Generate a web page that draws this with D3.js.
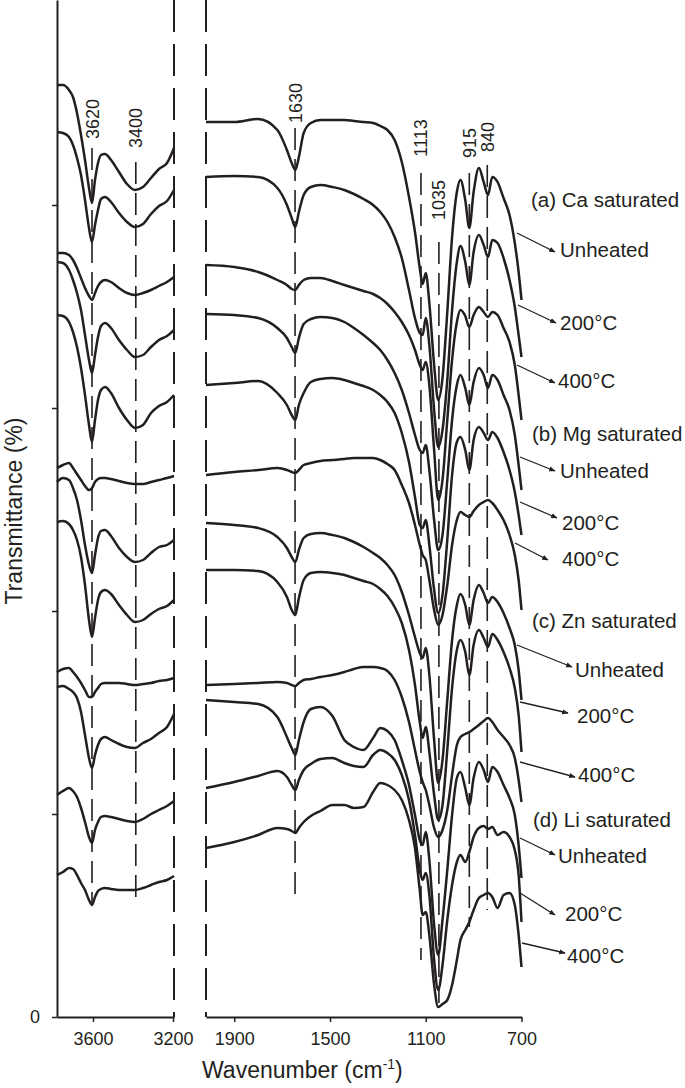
<!DOCTYPE html>
<html>
<head>
<meta charset="utf-8">
<script src="https://cdn.jsdelivr.net/npm/d3@7"></script>
<style>
  body { margin: 0; background: #fff; }
  text { font-family: "Liberation Sans", Arial, sans-serif; fill: #231f20; }
</style>
</head>
<body>
<div id="chart"></div>
<script>
// wavenumber grids (cm-1) for the two panels
const wnHigh = [3780, 3750, 3720, 3700, 3680, 3660, 3640, 3620, 3605, 3590, 3575, 3560, 3540, 3510, 3470, 3430, 3390, 3350, 3310, 3270, 3230, 3195];
const wnLow = [2018, 1900, 1800, 1720, 1680, 1660, 1645, 1630, 1610, 1580, 1540, 1490, 1440, 1400, 1360, 1320, 1290, 1260, 1230, 1200,
  1170, 1145, 1125, 1113, 1100, 1085, 1065, 1048, 1030, 1010, 990, 970, 955, 935, 918, 900, 878, 858, 840, 822, 800, 775, 750, 728, 712, 700];

// transmittance (offset) per cation: [unheated, 200°C, 400°C]
const caHigh = [
  [93.2, 93.2, 92.7, 92.0, 90.4, 88.2, 85.7, 82.9, 81.4, 83.7, 85.4, 86.2, 86.3, 85.7, 84.5, 83.3, 82.7, 83.0, 83.9, 84.8, 85.4, 86.9],
  [88.5, 88.4, 88.0, 87.2, 85.9, 84.2, 81.7, 78.9, 77.5, 79.2, 80.7, 81.8, 82.0, 81.5, 80.4, 79.5, 79.0, 79.3, 80.3, 81.1, 81.6, 82.7],
  [76.4, 76.4, 76.2, 75.7, 74.9, 73.9, 72.9, 72.1, 71.7, 72.4, 73.1, 73.5, 73.7, 73.5, 72.9, 72.4, 72.2, 72.4, 72.7, 73.1, 73.5, 74.0]
];
const mgHigh = [
  [75.5, 75.4, 74.7, 73.7, 72.4, 70.7, 68.2, 65.7, 64.4, 66.2, 68.0, 69.1, 69.4, 68.9, 67.7, 66.7, 66.0, 66.2, 67.0, 67.7, 68.1, 68.7],
  [70.2, 70.1, 69.5, 68.5, 67.0, 64.9, 62.2, 59.2, 57.5, 59.7, 61.7, 62.7, 63.0, 62.4, 60.9, 59.7, 58.9, 59.2, 60.4, 61.1, 61.5, 62.2],
  [54.9, 55.2, 55.4, 54.9, 54.3, 53.7, 53.1, 52.7, 52.9, 53.5, 53.8, 53.9, 53.9, 53.8, 53.6, 53.4, 53.3, 53.3, 53.5, 53.7, 53.9, 54.1]
];
const znHigh = [
  [53.5, 53.9, 53.7, 52.9, 51.7, 49.7, 47.2, 45.2, 44.4, 46.2, 47.9, 48.6, 48.7, 48.1, 46.9, 46.0, 45.5, 45.7, 46.4, 47.0, 47.2, 47.7],
  [49.5, 49.6, 49.3, 48.7, 47.7, 46.0, 43.2, 39.7, 38.0, 39.9, 41.7, 42.5, 42.7, 42.3, 41.2, 40.2, 39.5, 39.7, 40.3, 40.8, 41.1, 41.7],
  [34.5, 34.8, 34.9, 34.5, 34.0, 33.4, 32.7, 32.0, 32.0, 32.5, 32.9, 33.3, 33.4, 33.4, 33.4, 33.3, 33.2, 33.3, 33.4, 33.6, 33.7, 33.9]
];
const liHigh = [
  [33.0, 33.1, 32.8, 32.5, 31.9, 30.5, 28.2, 25.9, 24.9, 26.2, 27.2, 27.8, 28.0, 27.7, 27.3, 27.0, 26.9, 27.4, 27.8, 28.4, 29.0, 30.3],
  [22.2, 22.6, 22.9, 22.6, 22.0, 20.9, 19.5, 18.0, 17.4, 18.7, 19.5, 20.0, 20.1, 20.0, 19.8, 19.6, 19.5, 19.8, 20.3, 20.7, 21.1, 21.6],
  [14.2, 14.5, 14.9, 14.8, 14.2, 13.4, 12.7, 11.7, 11.2, 12.0, 12.6, 12.8, 12.9, 12.8, 12.7, 12.7, 12.7, 12.9, 13.2, 13.5, 13.7, 14.1]
];

const caLow = [
  [89.5, 89.5, 89.8, 88.7, 86.7, 85.4, 84.7, 86.0, 88.4, 89.4, 89.7, 89.7, 89.7, 89.6, 89.5, 89.4, 89.1, 88.7, 87.7, 85.5,
   82.0, 78.5, 74.9, 73.3, 74.4, 71.4, 65.2, 61.7, 63.9, 70.5, 78.0, 82.5, 83.7, 81.7, 78.9, 82.5, 84.9, 83.5, 82.2, 84.0, 83.5, 81.9, 80.2, 77.4, 74.5, 71.7],
  [84.0, 84.1, 84.0, 82.9, 81.2, 79.9, 79.0, 80.5, 82.2, 83.0, 83.2, 83.0, 82.7, 82.3, 81.8, 81.2, 80.5, 79.5, 78.0, 75.9,
   72.7, 69.9, 68.4, 68.2, 69.9, 67.2, 60.7, 57.0, 58.7, 63.7, 70.7, 75.5, 77.1, 75.5, 73.2, 76.5, 78.2, 77.2, 76.0, 77.7, 77.4, 75.9, 73.7, 71.0, 68.2, 66.0],
  [75.2, 75.0, 74.5, 73.7, 73.2, 72.8, 72.7, 73.2, 73.7, 73.9, 73.9, 73.6, 73.2, 72.9, 72.6, 72.3, 71.9, 71.3, 70.5, 69.5,
   68.2, 66.7, 65.2, 64.7, 65.5, 63.2, 56.7, 51.7, 53.7, 59.7, 65.7, 69.5, 70.7, 70.1, 69.0, 70.2, 71.0, 70.5, 70.0, 70.5, 70.2, 68.9, 67.5, 65.2, 62.2, 59.7]
];
const mgLow = [
  [70.3, 70.2, 69.9, 68.9, 67.9, 67.0, 66.4, 67.9, 69.3, 69.8, 70.0, 69.9, 69.5, 68.9, 68.2, 67.4, 66.7, 65.7, 64.4, 62.7,
   60.4, 58.2, 56.7, 56.4, 57.2, 54.7, 49.7, 46.7, 48.2, 53.7, 59.7, 63.2, 64.2, 62.9, 61.2, 63.5, 64.9, 64.2, 62.9, 64.2, 63.7, 62.2, 60.7, 58.2, 55.2, 52.7],
  [63.2, 63.4, 63.6, 62.4, 61.2, 60.2, 59.7, 61.2, 62.4, 63.5, 63.8, 63.9, 63.7, 63.4, 63.1, 62.7, 62.2, 61.5, 60.4, 58.4,
   55.5, 52.0, 49.2, 48.9, 49.7, 47.2, 42.7, 40.4, 42.2, 47.7, 54.2, 57.5, 58.0, 56.7, 54.7, 57.7, 59.0, 58.4, 57.7, 58.5, 57.9, 56.5, 54.7, 52.5, 50.2, 48.2],
  [54.2, 54.5, 54.7, 54.9, 54.7, 54.5, 54.4, 54.7, 55.2, 55.4, 55.6, 55.7, 55.8, 55.9, 55.9, 55.9, 55.7, 55.3, 54.7, 53.2,
   51.4, 49.2, 47.2, 46.2, 45.7, 43.7, 40.7, 39.2, 40.2, 43.2, 47.2, 49.7, 50.5, 50.2, 50.0, 50.6, 51.2, 51.5, 51.7, 51.4, 50.7, 49.7, 48.2, 46.2, 43.7, 40.7]
];
const znLow = [
  [49.4, 49.2, 48.9, 48.0, 46.9, 46.0, 45.5, 46.7, 47.9, 48.3, 48.4, 48.2, 47.9, 47.5, 47.0, 46.4, 45.9, 45.2, 44.2, 42.5,
   40.2, 38.0, 36.4, 35.9, 36.9, 34.2, 27.7, 23.4, 25.7, 31.7, 37.7, 41.2, 42.3, 41.2, 39.2, 41.7, 43.2, 42.4, 41.4, 42.0, 41.5, 40.4, 38.9, 37.2, 34.7, 31.7],
  [44.7, 44.7, 44.6, 43.5, 42.0, 40.7, 40.2, 41.9, 43.7, 44.4, 44.5, 44.4, 44.2, 43.9, 43.6, 43.3, 42.8, 42.1, 41.0, 39.4,
   36.7, 33.2, 29.5, 27.9, 29.0, 26.5, 22.2, 19.7, 21.2, 26.7, 32.9, 36.7, 37.7, 36.5, 34.2, 37.2, 38.7, 37.9, 37.0, 38.3, 37.7, 36.5, 34.9, 32.9, 30.2, 26.5],
  [33.2, 33.3, 33.4, 33.5, 33.4, 33.2, 33.1, 33.4, 33.7, 33.8, 34.0, 34.2, 34.5, 34.8, 35.0, 35.0, 34.9, 34.6, 33.7, 32.0,
   29.5, 26.7, 24.5, 23.5, 22.7, 21.2, 18.9, 18.0, 18.7, 20.7, 24.2, 27.2, 28.0, 28.3, 28.5, 28.8, 29.2, 29.6, 29.9, 29.5, 28.7, 28.0, 27.2, 25.9, 23.7, 21.5]
];
const liLow = [
  [31.7, 31.5, 31.3, 30.0, 28.0, 26.9, 26.2, 27.7, 29.5, 30.8, 31.0, 30.1, 27.7, 27.0, 26.7, 27.9, 28.9, 28.6, 27.7, 25.7,
   23.2, 20.2, 17.7, 17.2, 18.5, 15.7, 9.2, 6.2, 9.7, 14.7, 20.2, 23.9, 24.5, 22.9, 21.2, 23.9, 25.5, 24.7, 23.5, 25.0, 24.5, 23.2, 21.9, 20.2, 17.2, 13.9],
  [22.9, 23.5, 24.1, 24.6, 24.0, 23.2, 22.7, 23.7, 24.7, 25.3, 25.8, 25.9, 25.4, 25.1, 25.0, 26.2, 26.7, 26.4, 25.7, 24.2,
   21.7, 18.2, 14.7, 13.7, 14.4, 12.2, 5.7, 2.7, 5.2, 9.7, 13.2, 15.5, 16.2, 15.5, 16.5, 18.0, 18.9, 19.1, 18.8, 19.0, 18.2, 18.5, 18.0, 16.7, 14.2, 9.5],
  [16.9, 17.5, 18.2, 18.9, 18.8, 18.6, 18.4, 18.9, 19.5, 20.1, 20.6, 21.2, 21.2, 20.9, 21.0, 22.5, 23.4, 23.2, 22.7, 21.7,
   19.7, 16.9, 12.7, 10.2, 10.5, 8.2, 3.2, 1.0, 1.3, 1.7, 3.2, 5.7, 7.7, 8.7, 9.5, 10.7, 11.9, 12.2, 12.4, 12.0, 10.9, 12.2, 12.4, 11.2, 8.2, 5.0]
];

// band guide lines: label, wavenumber, top and bottom (transmittance)
const bandLabels = ["3620", "3400", "1630", "1113", "1035", "915", "840"];
const bandWn = [3605, 3386, 1646, 1120, 1045, 918, 843];
const bandTop = [86.9, 85.5, 88.9, 84.4, 77.5, 84.4, 85.2];
const bandBottom = [11.2, 11.2, 11.9, 5.7, 1.4, 9.0, 10.7];

const yTicks = [0, 20.3, 40.6, 60.9, 81.2];
const highTicks = [3600, 3200];
const lowTicks = [1900, 1500, 1100, 700];

const groupLabels = ["(a) Ca saturated", "(b) Mg saturated", "(c) Zn saturated", "(d) Li saturated"];
const tempLabels = ["Unheated", "200°C", "400°C"];

// layout of the right-hand annotations (pixels)
const groupPos = [[531, 207], [532, 441], [532, 628], [533, 827]];
const tempPos = [
  [[560, 257, 517, 233, 555, 252], [560, 330, 518, 305, 556, 323], [558, 388, 517, 365, 555, 383]],
  [[560, 478, 520, 457, 555, 471], [562, 530, 520, 502, 557, 518], [562, 566, 515, 543, 548, 560]],
  [[575, 677, 517, 645, 572, 667], [577, 723, 520, 702, 568, 713], [578, 782, 520, 762, 575, 777]],
  [[558, 863, 520, 838, 555, 855], [565, 921, 520, 893, 555, 915], [567, 963, 522, 943, 565, 953]]
];
const bandLabelY = [119, 128, 103, 138, 200, 143, 137];

const ink = "#231f20";

const svg = d3.select("#chart")
    .append("svg")
    .attr("width", 685)
    .attr("height", 1088);

const y = d3.scaleLinear().domain([0, 101.7]).range([1017, 0]);
const xHigh = d3.scaleLinear().domain([3780, 3195]).range([57, 174]);
const xLow = d3.scaleLinear().domain([2018, 700]).range([206, 521.5]);
const xFor = wn => wn > 2500 ? xHigh(wn) : xLow(wn);

svg.append("defs").append("marker")
    .attr("id", "head")
    .attr("viewBox", "0 0 10 10")
    .attr("refX", 9).attr("refY", 5)
    .attr("markerWidth", 5).attr("markerHeight", 5)
    .attr("orient", "auto")
    .append("path")
    .attr("d", "M0,1L10,5L0,9Z")
    .attr("fill", ink);

// axis-break dashed lines
[xHigh.range()[1], xLow.range()[0]].forEach(x => {
    svg.append("line")
        .attr("x1", x).attr("x2", x)
        .attr("y1", y(101.7)).attr("y2", y(0))
        .attr("stroke", ink).attr("stroke-width", 2)
        .attr("stroke-dasharray", "32,12");
});

// band guide lines and their labels
svg.append("g")
    .selectAll("line")
    .data(bandWn)
    .enter()
    .append("line")
    .attr("x1", d => xFor(d)).attr("x2", d => xFor(d))
    .attr("y1", (d, i) => y(bandTop[i]))
    .attr("y2", (d, i) => y(bandBottom[i]))
    .attr("stroke", ink)
    .attr("stroke-width", 1.6)
    .attr("stroke-dasharray", "22,9");

svg.append("g")
    .selectAll("text")
    .data(bandLabels)
    .enter()
    .append("text")
    .attr("transform", (d, i) => `translate(${xFor(bandWn[i]) + 6.5},${bandLabelY[i]}) rotate(-90)`)
    .attr("text-anchor", "middle")
    .style("font-size", "18px")
    .text(d => d);

// spectra
const highLine = d3.line().x((d, i) => xHigh(wnHigh[i])).y(d => y(d)).curve(d3.curveMonotoneX);
const lowLine = d3.line().x((d, i) => xLow(wnLow[i])).y(d => y(d)).curve(d3.curveMonotoneX);

svg.append("g")
    .selectAll("path")
    .data([caHigh, mgHigh, znHigh, liHigh].flat())
    .enter()
    .append("path")
    .attr("d", highLine)
    .attr("fill", "none")
    .attr("stroke", ink)
    .attr("stroke-width", 2.5);

svg.append("g")
    .selectAll("path")
    .data([caLow, mgLow, znLow, liLow].flat())
    .enter()
    .append("path")
    .attr("d", lowLine)
    .attr("fill", "none")
    .attr("stroke", ink)
    .attr("stroke-width", 2.5);

// axes
const styleAxis = g => {
    g.select(".domain").attr("stroke", ink).attr("stroke-width", 2);
    g.selectAll(".tick line").attr("stroke", ink).attr("stroke-width", 1.5);
    g.selectAll(".tick text").attr("fill", ink).style("font-size", "18px")
        .style("font-family", '"Liberation Sans", Arial, sans-serif');
};

svg.append("g")
    .attr("transform", "translate(57,0)")
    .call(d3.axisLeft(y).tickValues(yTicks).tickSize(5).tickSizeOuter(0).tickPadding(12)
        .tickFormat(d => d === 0 ? "0" : ""))
    .call(styleAxis);

svg.append("g")
    .attr("transform", "translate(0,1017)")
    .call(d3.axisBottom(xHigh).tickValues(highTicks).tickSize(5).tickSizeOuter(0).tickPadding(10)
        .tickFormat(d3.format("d")))
    .call(styleAxis);

svg.append("g")
    .attr("transform", "translate(0,1017)")
    .call(d3.axisBottom(xLow).tickValues(lowTicks).tickSize(5).tickSizeOuter(0).tickPadding(10)
        .tickFormat(d3.format("d")))
    .call(styleAxis);

// axis titles
svg.append("text")
    .attr("transform", "translate(22,511) rotate(-90)")
    .attr("text-anchor", "middle")
    .style("font-size", "23px")
    .text("Transmittance (%)");

const xt = svg.append("text")
    .attr("x", 202).attr("y", 1078)
    .style("font-size", "23px");
xt.append("tspan").text("Wavenumber (cm");
xt.append("tspan").attr("dy", -9).style("font-size", "14px").text("-1");
xt.append("tspan").attr("dy", 9).text(")");

// sample annotations
groupLabels.forEach((g, gi) => {
    svg.append("text")
        .attr("x", groupPos[gi][0]).attr("y", groupPos[gi][1])
        .style("font-size", "20.5px")
        .text(g);
    tempLabels.forEach((t, ti) => {
        const p = tempPos[gi][ti];
        svg.append("line")
            .attr("x1", p[2]).attr("y1", p[3])
            .attr("x2", p[4]).attr("y2", p[5])
            .attr("stroke", ink).attr("stroke-width", 1.3)
            .attr("marker-end", "url(#head)");
        svg.append("text")
            .attr("x", p[0]).attr("y", p[1])
            .style("font-size", "20.5px")
            .text(t);
    });
});
</script>
</body>
</html>
